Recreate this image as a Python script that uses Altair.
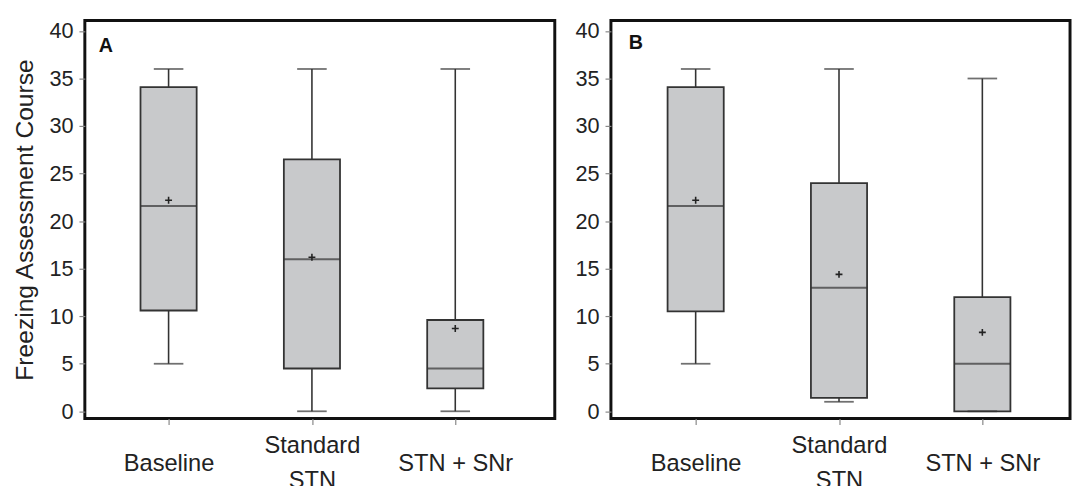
import altair as alt
import pandas as pd

categories = ["Baseline", "Standard STN", "STN + SNr"]

# Panel A
a_min = [5, 0, 0]
a_q1 = [10.6, 4.5, 2.4]
a_median = [21.6, 16.0, 4.5]
a_q3 = [34.1, 26.5, 9.6]
a_max = [36, 36, 36]
a_mean = [22.2, 16.2, 8.7]

# Panel B
b_min = [5, 1, 0]
b_q1 = [10.5, 1.4, 0]
b_median = [21.6, 13.0, 5.0]
b_q3 = [34.1, 24.0, 12.0]
b_max = [36, 36, 35]
b_mean = [22.2, 14.4, 8.3]

y_ticks = [0, 5, 10, 15, 20, 25, 30, 35, 40]

FONT = "Liberation Sans"
BOX_FILL = "#c8c9cb"
LINE = "#333333"

ZW = "\u200b"
LABEL_EXPR = ("datum.label == 'Standard STN' ? ['Standard', '" + ZW + "', 'STN'] : ['"
              + ZW + "', datum.label]")


def panel(letter, mn, q1, med, q3, mx, mean, width, x_range, show_title, letter_x, letter_y):
    df = pd.DataFrame({"cat": categories, "lo": mn, "q1": q1, "med": med,
                       "q3": q3, "hi": mx, "mean": mean})
    base = alt.Chart(df)
    x = alt.X(
        "cat:N",
        sort=categories,
        scale=alt.Scale(type="point", domain=categories, range=x_range, padding=0),
        axis=alt.Axis(
            title=None,
            labelAngle=0,
            labelFontSize=24,
            labelPadding=10,
            labelBaseline="top",
            labelLineHeight=17.5,
            labelExpr=LABEL_EXPR,
            tickSize=6,
            domain=False,
        ),
    )
    yscale = alt.Scale(domain=[-0.76, 41.1], nice=False, zero=False)
    yaxis_kwargs = dict(values=y_ticks, labelFontSize=22, labelPadding=6, tickSize=6,
                        domain=False, grid=False, titleFontSize=25, titlePadding=12,
                        titleFontWeight="normal")
    if show_title:
        yaxis = alt.Axis(title="Freezing Assessment Course", **yaxis_kwargs)
    else:
        yaxis = alt.Axis(title=None, **yaxis_kwargs)

    whisker = base.mark_rule(color=LINE, strokeWidth=1.6).encode(
        x=x, y=alt.Y("lo:Q", scale=yscale, axis=yaxis), y2="hi:Q")
    box = base.mark_bar(size=57, color=BOX_FILL, stroke=LINE, strokeWidth=1.8).encode(
        x=x, y=alt.Y("q1:Q", scale=yscale, axis=yaxis), y2="q3:Q")
    median = base.mark_tick(size=57, thickness=2, color=LINE).encode(
        x=x, y=alt.Y("med:Q", scale=yscale, axis=yaxis))
    cap_lo = base.mark_tick(size=30, thickness=1.8, color=LINE).encode(
        x=x, y=alt.Y("lo:Q", scale=yscale, axis=yaxis))
    cap_hi = base.mark_tick(size=30, thickness=1.8, color=LINE).encode(
        x=x, y=alt.Y("hi:Q", scale=yscale, axis=yaxis))
    mean_pt = base.mark_point(shape="M-1,0H1M0,-1V1", size=49, strokeWidth=1.6,
                              color="#222", filled=False, opacity=1).encode(
        x=x, y=alt.Y("mean:Q", scale=yscale, axis=yaxis))
    label = alt.Chart(pd.DataFrame({"t": [letter]})).mark_text(
        fontWeight="bold", fontSize=20, align="left", baseline="alphabetic",
        font=FONT, color="#111").encode(
        x=alt.value(letter_x), y=alt.value(letter_y), text="t:N")

    return alt.layer(whisker, box, median, cap_lo, cap_hi, mean_pt, label).properties(
        width=width, height=404)


pa = panel("A", a_min, a_q1, a_median, a_q3, a_max, a_mean, 477, [85, 376], True, 14, 32)
pb = panel("B", b_min, b_q1, b_median, b_q3, b_max, b_mean, 466, [86, 377], False, 18, 29)

chart = alt.hconcat(pa, pb, spacing=17).properties(
    padding={"left": 3, "top": 7, "right": 0, "bottom": 0},
    background="white",
).configure_view(
    stroke="#111", strokeWidth=3
).configure_axis(
    labelFont=FONT, titleFont=FONT, labelColor="#222", titleColor="#222",
    tickColor="#888", tickWidth=1.2
)

chart.save("out.html", embed_options={"renderer": "svg", "actions": False})
